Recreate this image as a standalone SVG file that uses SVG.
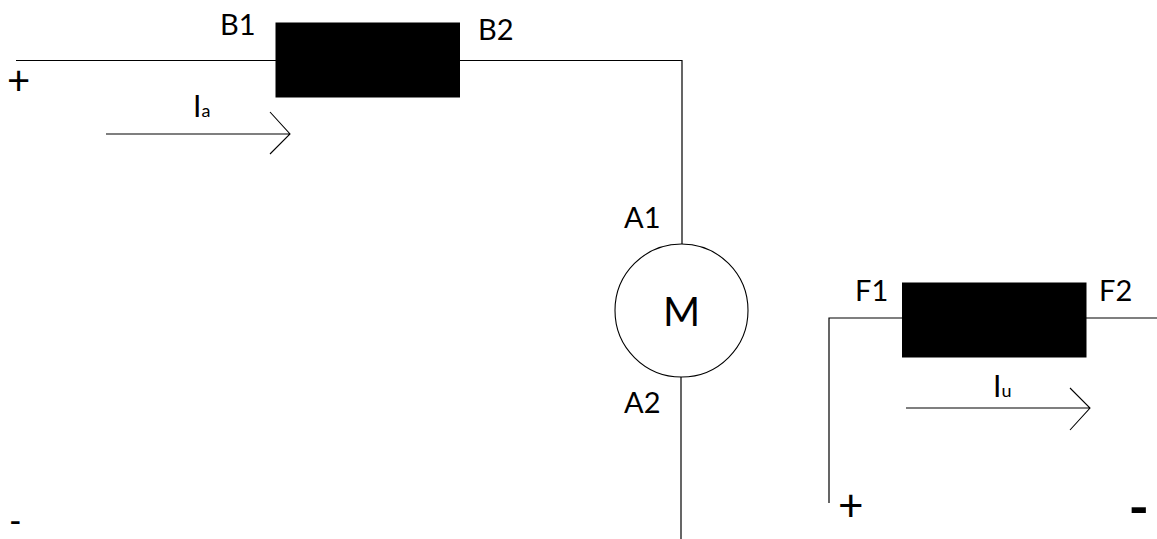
<svg xmlns="http://www.w3.org/2000/svg" width="1157" height="539" viewBox="0 0 1157 539">
<style>
.w{fill:none;stroke:#000;stroke-width:1.100}
.g{fill:none;stroke:#000;stroke-width:1.200}
.b{fill:#000}
text{font-family:"Lato","Open Sans",sans-serif;fill:#000}
.l{font-size:29px}
.i{font-size:30px}
.s{font-size:18px}
</style>
<rect width="1157" height="539" fill="#fff"/>
<g id="connectors">
<path class="g" d="M16 60.500H276"/>
<path class="g" d="M460 60.500H682V244"/>
<path class="g" d="M681 377V539"/>
<path class="g" d="M829 503V318H902"/>
<path class="g" d="M1086 318H1157"/>
<path class="w" d="M106 134H290M270 112L290 134L270 154"/>
<path class="w" d="M906 408H1090M1070 388L1090 408L1070 430"/>
</g>
<g id="resistor-b"><rect class="b" x="275.500" y="22.500" width="184.500" height="75"/>
<text class="l" x="220" y="35">B1</text><text class="l" x="478" y="40">B2</text></g>
<g id="motor"><circle cx="681.500" cy="310.500" r="66.500" fill="#fff" stroke="#000" stroke-width="1.100"/>
<text x="681.500" y="326" font-size="40" text-anchor="middle">M</text>
<text class="l" x="624" y="228">A1</text><text class="l" x="624" y="413">A2</text></g>
<g id="resistor-f"><rect class="b" x="902" y="282.500" width="184.500" height="75"/>
<text class="l" x="855" y="301">F1</text><text class="l" x="1099" y="301">F2</text></g>
<g id="label-ia"><text class="i" x="193" y="117">I<tspan class="s">a</tspan></text></g>
<g id="label-iu"><text class="i" x="993" y="397">I<tspan class="s">u</tspan></text></g>
<g id="terminals">
<text x="7" y="95" font-size="40">+</text>
<text x="9" y="533" font-size="34">-</text>
<text x="838" y="521" font-size="44">+</text>
<text x="1128.500" y="527" font-size="55" font-weight="700">-</text>
</g>
</svg>
